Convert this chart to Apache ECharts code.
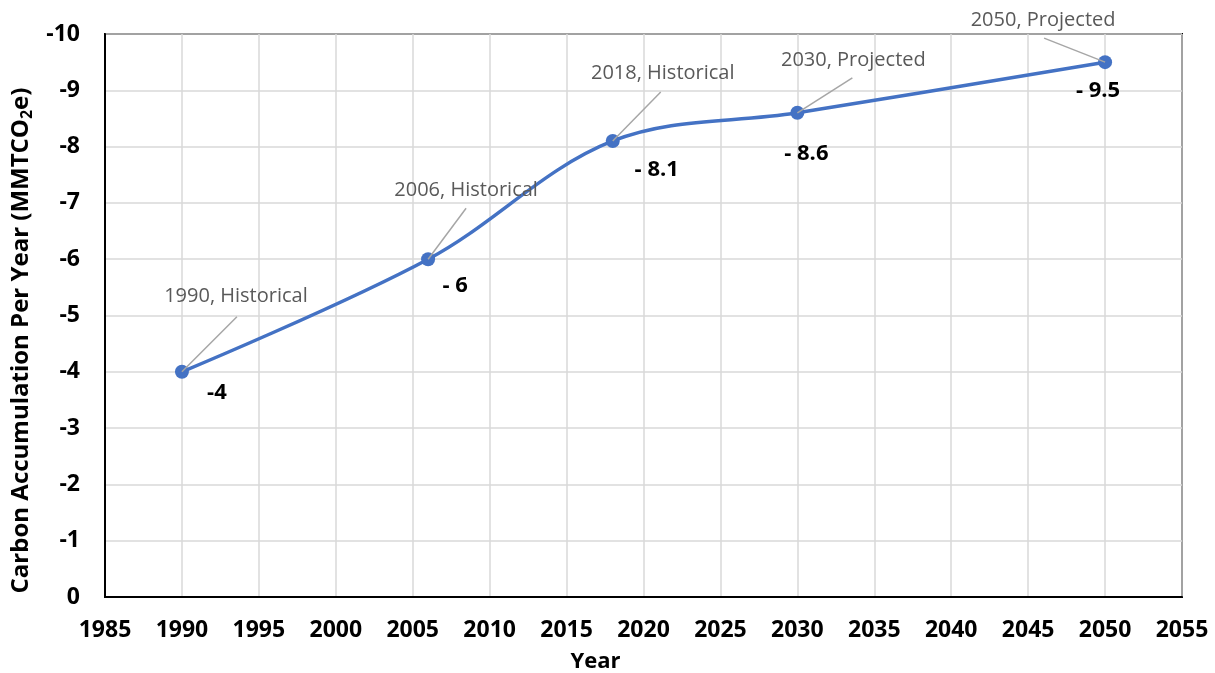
<!DOCTYPE html>
<html>
<head>
<meta charset="utf-8">
<script src="https://cdn.jsdelivr.net/npm/echarts@6/dist/echarts.min.js"></script>
<style>
html,body{margin:0;padding:0;background:#fff;}
#c{width:1215px;height:673px;}
</style>
</head>
<body>
<div id="c"></div>
<script>
// ---- data ----
var years = [1990, 2006, 2018, 2030, 2050];
var values = [-4, -6, -8.1, -8.6, -9.5];
var valueLabels = ['-4', '- 6', '- 8.1', '- 8.6', '- 9.5'];
var notes = ['1990, Historical', '2006, Historical', '2018, Historical', '2030, Projected', '2050, Projected'];

// ---- label placement (style, pixel offsets from each point) ----
var valueOffsets = [[35, 21], [27, 27], [44, 29], [9, 41], [-7, 29]];
var noteOffsets = [[54, -76], [38, -69], [50, -68], [56, -53], [-62, -42]];
var leaderEnds = [[55, -55], [38, -51], [48, -49], [55, -35], [-61, -24]];

var FONT = 'Open Sans';
var chart = echarts.init(document.getElementById('c'));

var lineData = years.map(function (y, i) {
  return {
    value: [y, values[i]],
    label: { formatter: valueLabels[i], offset: valueOffsets[i] }
  };
});
var noteData = years.map(function (y, i) { return [y, values[i]]; });

chart.setOption({
  animation: false,
  grid: { left: 105, right: 33, top: 34, bottom: 76, show: true, borderColor: '#000', borderWidth: 2, containLabel: false, outerBoundsMode: 'none' },
  xAxis: {
    type: 'value', min: 1985, max: 2055, interval: 5,
    name: 'Year', nameLocation: 'middle', nameGap: 54,
    nameTextStyle: { fontFamily: FONT, fontWeight: 'bold', fontSize: 22, color: '#000', padding: [0, 96, 0, 0] },
    axisLine: { show: true, lineStyle: { color: '#000', width: 2 } },
    axisTick: { show: false },
    axisLabel: { fontFamily: FONT, fontWeight: 'bold', fontSize: 23, color: '#000', margin: 22, formatter: function (v) { return String(v); } },
    splitLine: { show: true, lineStyle: { color: '#d9d9d9', width: 1.5 } }
  },
  yAxis: {
    type: 'value', min: -10, max: 0, interval: 1, inverse: true,
    name: 'Carbon Accumulation Per Year (MMTCO{sub|2}e)', nameLocation: 'middle', nameGap: 70, nameRotate: 90,
    nameTextStyle: {
      fontFamily: FONT, fontWeight: 'bold', fontSize: 24, color: '#000', padding: [0, 50, 0, 0],
      rich: { sub: { fontFamily: FONT, fontWeight: 'bold', fontSize: 16, color: '#000', verticalAlign: 'bottom', padding: [11, 0, 0, 0] } }
    },
    axisLine: { show: true, lineStyle: { color: '#000', width: 2 } },
    axisTick: { show: false },
    axisLabel: { fontFamily: FONT, fontWeight: 'bold', fontSize: 23, color: '#000', margin: 25 },
    splitLine: { show: true, lineStyle: { color: '#d9d9d9', width: 1.5 } }
  },
  series: [
    {
      type: 'line', data: lineData, smooth: 0.35,
      symbol: 'circle', symbolSize: 14,
      lineStyle: { color: '#4472C4', width: 3.5 },
      itemStyle: { color: '#4472C4' },
      label: { show: true, position: 'inside', fontFamily: FONT, fontWeight: 'bold', fontSize: 22, color: '#000' },
      z: 3
    },
    {
      type: 'custom', data: noteData, z: 4, clip: false,
      renderItem: function (params, api) {
        var i = params.dataIndex;
        var p = api.coord([api.value(0), api.value(1)]);
        var le = leaderEnds[i], o = noteOffsets[i];
        return {
          type: 'group',
          children: [
            { type: 'line', shape: { x1: p[0], y1: p[1], x2: p[0] + le[0], y2: p[1] + le[1] },
              style: { stroke: '#a6a6a6', lineWidth: 1.5 } },
            { type: 'text', x: p[0] + o[0], y: p[1] + o[1],
              style: { text: notes[i], fill: '#595959', fontFamily: FONT, fontSize: 20, align: 'center', verticalAlign: 'middle' } }
          ]
        };
      }
    }
  ]
});
</script>
</body>
</html>
